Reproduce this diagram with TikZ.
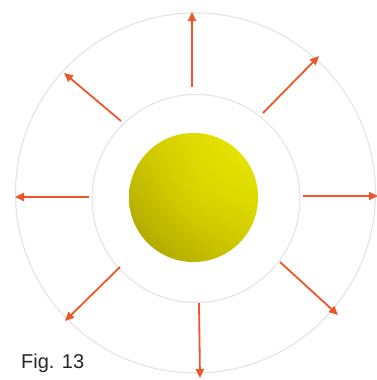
\documentclass[tikz,border=0pt]{standalone}
\usepackage{fontspec}
\setmainfont{Liberation Sans}
\usetikzlibrary{arrows.meta,shadings}
\definecolor{ringgray}{HTML}{E4E4E4}
\definecolor{arrowred}{HTML}{EE5528}
\definecolor{balllight}{HTML}{F8F800}
\definecolor{ballmid}{HTML}{D6D000}
\definecolor{balldark}{HTML}{A89F00}
\tikzset{
  ring/.style={draw=ringgray, line width=1.1pt},
  ray/.style={draw=arrowred, line width=1.8pt, -{Triangle[length=9pt,width=8pt]}},
  caption/.style={font=\fontsize{20}{24}\selectfont, anchor=base west, inner sep=0pt, text=black!85}
}
\begin{document}
\begin{tikzpicture}[x=1pt,y=-1pt]
\useasboundingbox (0,0) rectangle (377,380);
\fill[white] (0,0) rectangle (377,380);
\draw[ring] (195.5,193) circle (180);
\draw[ring] (196,198.5) circle (104);
\begin{scope}
\clip (193.5,197.5) circle (64.5);
\shade[upper right=balllight, lower left=balldark, upper left=ballmid, lower right=ballmid]
  (129,133) rectangle (258,262);
\shade[inner color=balllight, outer color=balldark, shading=radial, opacity=0.12]
  (193.5,197.5) circle (64.5);
\end{scope}
% arrow endpoints
\coordinate (t1) at (192,87);  \coordinate (h1) at (192,12);
\coordinate (t2) at (263,113); \coordinate (h2) at (319,56);
\coordinate (t3) at (303,196); \coordinate (h3) at (378,196);
\coordinate (t4) at (280,262); \coordinate (h4) at (338,315);
\coordinate (t5) at (199,303); \coordinate (h5) at (200,378);
\coordinate (t6) at (120,267); \coordinate (h6) at (65,321);
\coordinate (t7) at (89,197);  \coordinate (h7) at (15,197);
\coordinate (t8) at (121,121); \coordinate (h8) at (64,73);
\foreach \i in {1,...,8} \draw[ray] (t\i) -- (h\i);
\node[caption] (cap) at (21,368) {Fig. 13};
\end{tikzpicture}
\end{document}
